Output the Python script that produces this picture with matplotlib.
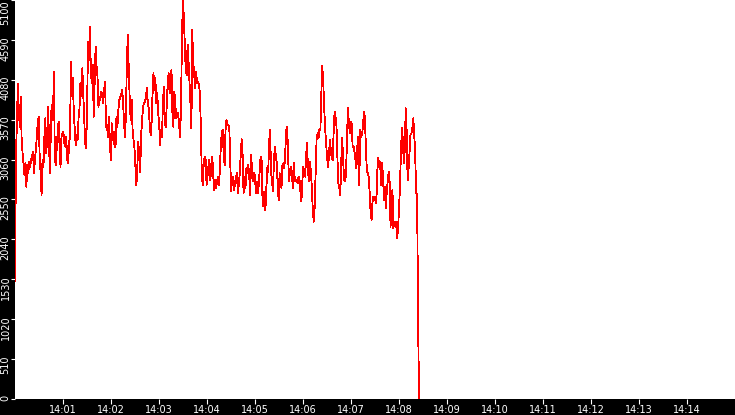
import pandas as pd
import matplotlib
matplotlib.use('Agg')
import matplotlib.pyplot as plt
from matplotlib.transforms import ScaledTranslation

# readings from 14:00:00 up to 14:08:25, evenly spaced
values = [
    1510, 3106, 3524, 4022, 3694, 3481, 3865, 3311, 3140, 3013,
    2864, 3013, 2714, 2991, 2885, 3034, 2970, 3064, 3098, 3162,
    2885, 3055, 3183, 3353, 3545, 3609, 3098, 2885, 2608, 3055,
    2970, 3353, 3588, 3140, 3396, 3737, 3183, 2885, 3630, 3758,
    3566, 4184, 3077, 2991, 3204, 3417, 3545, 3226, 2970, 3353,
    3396, 3417, 3268, 3226, 3353, 3055, 3013, 3268, 3353, 4312,
    3865, 4099, 3652, 3439, 3247, 3375, 3311, 3588, 3716, 4035,
    3865, 4227, 3886, 3588, 3268, 3204, 3694, 4568, 4333, 4759,
    4184, 4035, 4269, 3609, 4078, 4504, 4248, 4120, 3737, 3865,
    3822, 3929, 3886, 3780, 3950, 4056, 3481, 3502, 3353, 3609,
    3311, 3055, 3524, 3311,
    3417, 3226, 3226, 3609, 3481, 3694, 3822, 3865, 3886, 3950,
    3780, 3524, 3353, 3652, 4333, 4653, 4184, 3822, 3566, 3822,
    3439, 3311, 3204, 2970, 2736, 2970, 3290, 3098, 2906, 3375,
    3566, 3737, 3780, 3801, 3843, 3971, 3801, 3716, 3524, 3375,
    3524, 3886, 4163, 3950, 4099, 3780, 3908, 3652, 3524, 3247,
    3439, 3353, 3801, 3993, 3524, 3481, 3758, 4035, 4163, 3908,
    4035, 4205, 3652, 3481, 3929, 3780, 3588, 3609, 3652, 3524,
    3353, 3694, 4568, 5100, 4887, 4546, 4205, 4141, 4525, 4312,
    4056, 3780, 3460, 4717, 4120, 4248, 3971, 4184, 4035, 4056,
    4014, 3908, 3460, 2842, 2736, 3013, 3098, 3055, 2736, 2970,
    2864, 3055, 2800, 2970, 3098, 2864, 2672, 2800, 2693, 2779,
    2842,
    2736, 2927, 3226, 3396, 3439, 3140, 2991, 3439, 3566, 3502,
    3502, 3460, 3013, 2651, 2842, 2842, 2672, 2757, 2842, 2885,
    2629, 2736, 2885, 3119, 3319, 3119, 2629, 2842, 2693, 2949,
    2885, 2991, 2842, 2608, 3119, 2927, 2779, 2885, 2864, 2629,
    2779, 2629, 2736, 2927, 3098, 3055, 2544, 2459, 2651, 2416,
    2672, 2949, 2906, 3290, 3439, 2906, 2779, 2651, 3034, 3226,
    3119, 3013, 2736, 2544, 2885, 2757, 2693, 2991, 3013, 2949,
    3162, 3439, 3481, 3098, 2779, 2927, 2970, 2885, 2693, 3013,
    2800, 2779, 2800, 2757, 2842, 2800, 2651, 2523, 2779, 2970,
    2906, 2842, 3119, 3268, 2906, 2779, 3034, 2906, 2693, 2416,
    2267, 2459, 2885, 3311, 3396, 3332, 3439,
    3439, 3886, 4256, 4056, 3737, 3460, 3268, 3098, 2970, 3098,
    3311, 3183, 3077, 3055, 3417, 3673, 3609, 3481, 3077, 2757,
    2693, 2608, 3034, 3332, 3055, 2800, 2779, 2864, 3311, 3716,
    3545, 3396, 3545, 3524, 3226, 3226, 3162, 3055, 2949, 3226,
    3353, 2736, 3439, 3353, 3375, 3502, 3673, 3588, 3204, 2927,
    2885, 2842, 2629, 2373, 2288, 2523, 2587, 2544, 2587, 2501,
    2906, 3077, 3013, 3034, 2736, 3013, 2864, 2544, 2715, 2437,
    2651, 2779, 2906, 2779, 2203, 2437, 2672, 2182, 2267, 2203,
    2267, 2054, 2203, 2437, 2757, 3162, 3460, 3311, 3013, 3183,
    3716, 3417, 2800, 2949, 3140, 3375, 3396, 3460, 3588, 3375,
    3119, 2629, 2608, 1100, 0,
]
day = '2019-01-01 '
t_start = '14:00:00'
t_end = '14:08:25'
view_start = '14:00'
view_end = '14:15'
y_ticks = [0, 510, 1020, 1530, 2040, 2550, 3060, 3570, 4080, 4590, 5100]
x_tick_labels = ['14:01', '14:02', '14:03', '14:04', '14:05', '14:06', '14:07',
                 '14:08', '14:09', '14:10', '14:11', '14:12', '14:13', '14:14']

times = pd.date_range(day + t_start, day + t_end, periods=len(values))

fig = plt.figure(figsize=(7.35, 4.15), dpi=100, facecolor='black')
ax = fig.add_axes([15/735, 16/415, 720/735, 399/415])
ax.set_facecolor('white')
ax.plot(times, values, color='#ff0000', lw=0.6, antialiased=False)

ax.set_ylim(y_ticks[0], y_ticks[-1])
ax.set_xlim(pd.Timestamp(day + view_start), pd.Timestamp(day + view_end))
ax.set_xticks([pd.Timestamp(day + s) for s in x_tick_labels])
ax.set_xticklabels(x_tick_labels)
ax.set_yticks(y_ticks)
ax.set_yticklabels([str(v) for v in y_ticks], rotation=90, va='top')

for sp in ax.spines.values():
    sp.set_visible(False)
ax.tick_params(axis='x', colors='white', labelsize=7, length=3.6, width=0.8, pad=0.8)
ax.tick_params(axis='y', colors='white', labelsize=7, length=2.9, width=0.8, pad=0.3)

# labels sit a little above their tick, the top one stays inside the figure
up = ScaledTranslation(0, 4/100, fig.dpi_scale_trans)
labels = ax.yaxis.get_majorticklabels()
for lab in labels[:-1]:
    lab.set_transform(lab.get_transform() + up)

fig.savefig('out.png', dpi=100, facecolor='black')
